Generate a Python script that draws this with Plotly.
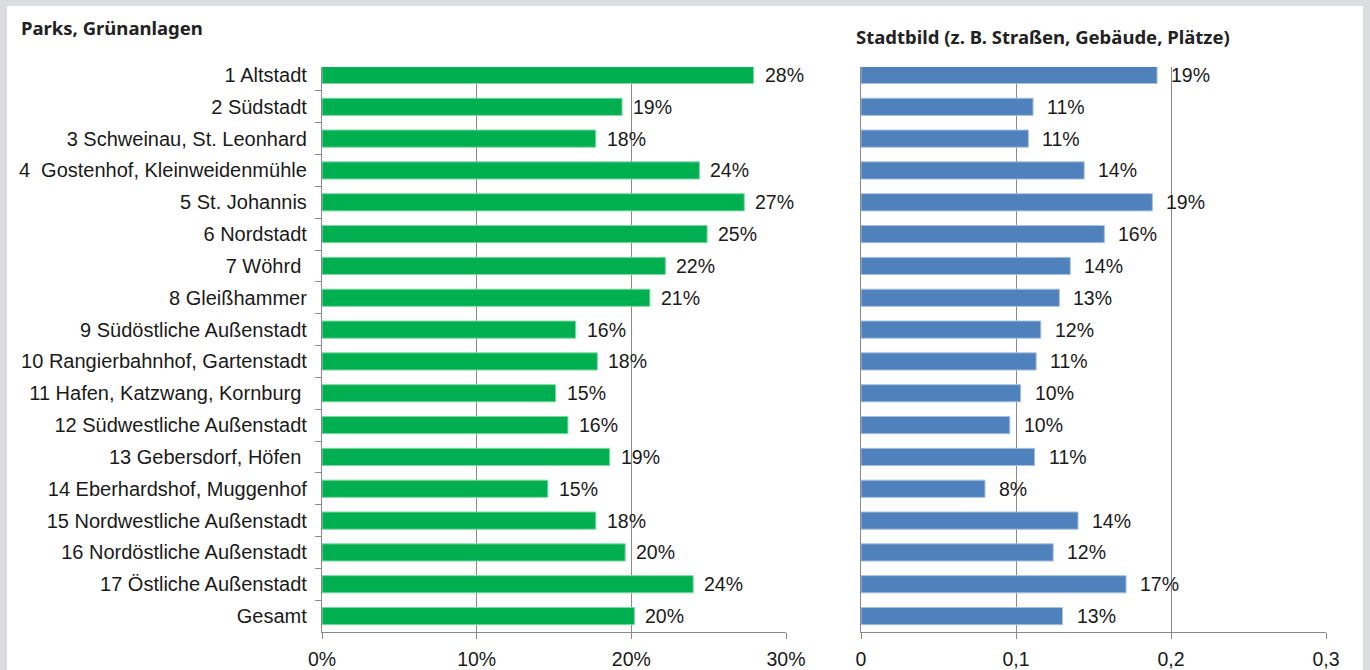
import plotly.graph_objects as go

categories = [
    "1 Altstadt", "2 Südstadt", "3 Schweinau, St. Leonhard",
    "4  Gostenhof, Kleinweidenmühle", "5 St. Johannis", "6 Nordstadt",
    "7 Wöhrd ", "8 Gleißhammer", "9 Südöstliche Außenstadt",
    "10 Rangierbahnhof, Gartenstadt", "11 Hafen, Katzwang, Kornburg ",
    "12 Südwestliche Außenstadt", "13 Gebersdorf, Höfen ",
    "14 Eberhardshof, Muggenhof", "15 Nordwestliche Außenstadt",
    "16 Nordöstliche Außenstadt", "17 Östliche Außenstadt", "Gesamt",
]
parks = [0.279, 0.194, 0.177, 0.244, 0.273, 0.249, 0.222, 0.212, 0.164,
         0.178, 0.151, 0.159, 0.186, 0.146, 0.177, 0.196, 0.240, 0.202]
stadtbild = [0.191, 0.111, 0.108, 0.144, 0.188, 0.157, 0.135, 0.128, 0.116,
             0.113, 0.103, 0.096, 0.112, 0.080, 0.140, 0.124, 0.171, 0.130]
left_ticks = [0, 0.1, 0.2, 0.3]
left_ticktext = ["0%", "10%", "20%", "30%"]
right_ticks = [0, 0.1, 0.2, 0.3]
right_ticktext = ["0", "0,1", "0,2", "0,3"]
title_left = "Parks, Grünanlagen"
title_right = "Stadtbild (z. B. Straßen, Gebäude, Plätze)"

W, H = 1370, 670
GRID = "#8a8a8a"
FONT = "Liberation Sans, Arial, sans-serif"
TXT = "#1a1a1a"

fig = go.Figure()
fig.add_trace(go.Bar(
    x=parks, y=categories, orientation="h",
    marker=dict(color="#00b050", line=dict(color="#7fd8a4", width=1)),
    width=0.54, xaxis="x", yaxis="y", showlegend=False, hoverinfo="skip",
))
fig.add_trace(go.Bar(
    x=stadtbild, y=categories, orientation="h",
    marker=dict(color="#4f81bd", line=dict(color="#a7c0de", width=1)),
    width=0.54, xaxis="x2", yaxis="y2", showlegend=False, hoverinfo="skip",
))

annotations = []
for c, v in zip(categories, parks):
    annotations.append(dict(x=v, y=c, xref="x", yref="y", text=f"{round(v*100):.0f}%",
                            showarrow=False, xanchor="left", xshift=9,
                            font=dict(family=FONT, size=19.5, color=TXT)))
for c, v in zip(categories, stadtbild):
    annotations.append(dict(x=v, y=c, xref="x2", yref="y2", text=f"{round(v*100):.0f}%",
                            showarrow=False, xanchor="left", xshift=12,
                            font=dict(family=FONT, size=19.5, color=TXT)))
annotations.append(dict(x=19 / W, y=1 - 27 / H, xref="paper", yref="paper", text=f"<b>{title_left}</b>",
                        showarrow=False, xanchor="left", yanchor="middle",
                        font=dict(family="Noto Sans, sans-serif", size=18.5, color="#222222")))
annotations.append(dict(x=854 / W, y=1 - 36 / H, xref="paper", yref="paper", text=f"<b>{title_right}</b>",
                        showarrow=False, xanchor="left", yanchor="middle",
                        font=dict(family="Noto Sans, sans-serif", size=18.5, color="#222222")))

ydom = [(H - 632) / H, (H - 67) / H]
common_x = dict(showgrid=True, gridcolor=GRID, gridwidth=1.3, showline=True, linecolor=GRID,
                linewidth=1.3, ticks="outside", ticklen=6, tickcolor=GRID, tickwidth=1.3,
                zeroline=False, ticklabelstandoff=3, automargin=False,
                tickfont=dict(family=FONT, size=19.5, color=TXT), fixedrange=True)

fig.update_layout(
    width=W, height=H,
    margin=dict(l=0, r=0, t=0, b=0, autoexpand=False),
    paper_bgcolor="#dcdddf", plot_bgcolor="rgba(0,0,0,0)",
    bargap=0.46,
    xaxis=dict(domain=[322 / W, 786 / W], range=[0, 0.3], tickvals=left_ticks,
               ticktext=left_ticktext, anchor="y", **common_x),
    xaxis2=dict(domain=[861 / W, 1326 / W], range=[0, 0.3], tickvals=right_ticks,
                ticktext=right_ticktext, anchor="y2", **common_x),
    yaxis=dict(domain=ydom, type="category", categoryorder="array", categoryarray=categories,
               range=[17.5, -0.25], showline=True, linecolor=GRID, linewidth=1.3,
               ticks="outside", tickson="boundaries", ticklen=6, tickcolor=GRID, tickwidth=1.3,
               showgrid=False, anchor="x", ticklabelstandoff=10, automargin=False,
               tickfont=dict(family=FONT, size=20, color=TXT), fixedrange=True),
    yaxis2=dict(domain=ydom, type="category", categoryorder="array", categoryarray=categories,
                range=[17.5, -0.25], showline=True, linecolor=GRID, linewidth=1.3,
                ticks="", showticklabels=False, showgrid=False, anchor="x2",
                automargin=False, fixedrange=True),
    annotations=annotations,
    shapes=[dict(type="rect", xref="paper", yref="paper", x0=7 / W, x1=1363 / W, y0=0,
                 y1=1 - 6 / H, fillcolor="white", line=dict(width=0), layer="below")],
)

fig.write_html("out.html", config={"displayModeBar": False},
               post_script="document.body.style.margin='0';document.body.style.overflow='hidden';")
